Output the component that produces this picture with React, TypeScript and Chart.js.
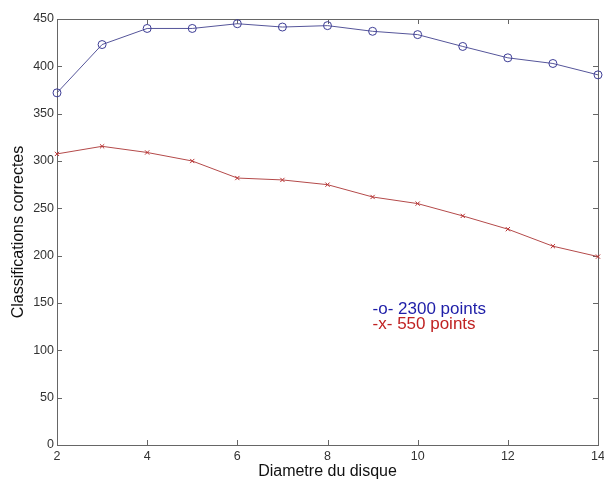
import React, { useEffect, useRef } from "react";
import { Chart, registerables } from "chart.js";

Chart.register(...registerables);

const diameters = [2, 3, 4, 5, 6, 7, 8, 9, 10, 11, 12, 13, 14];
const points2300 = [372, 423, 440, 440, 445, 441.5, 443, 437, 433.5, 421, 409, 403, 391];
const points550 = [307.5, 315.5, 309, 300, 282, 280, 275, 262, 255, 242, 228, 210, 199];
const legendLines = ["-o- 2300 points", "-x- 550 points"];
const legendColors = ["#1e1ea8", "#c02222"];
const xTitle = "Diametre du disque";
const yTitle = "Classifications correctes";

const FONT = "'Liberation Sans', Arial, sans-serif";

const framePlugin = {
  id: "frame",
  beforeDatasetsDraw(chart: any) {
    const { ctx, chartArea, scales } = chart;
    const { left, right, top, bottom } = chartArea;
    const x = scales.x;
    const y = scales.y;
    ctx.save();
    ctx.strokeStyle = "#666";
    ctx.lineWidth = 1;
    ctx.strokeRect(Math.round(left) + 0.5, Math.round(top) + 0.5, Math.round(right - left), Math.round(bottom - top));
    const tl = 5;
    ctx.beginPath();
    x.ticks.forEach((t: any) => {
      const px = Math.round(x.getPixelForValue(t.value)) + 0.5;
      ctx.moveTo(px, bottom);
      ctx.lineTo(px, bottom - tl);
      ctx.moveTo(px, top);
      ctx.lineTo(px, top + tl);
    });
    y.ticks.forEach((t: any) => {
      const py = Math.round(y.getPixelForValue(t.value)) + 0.5;
      ctx.moveTo(left, py);
      ctx.lineTo(left + tl, py);
      ctx.moveTo(right, py);
      ctx.lineTo(right - tl, py);
    });
    ctx.stroke();
    ctx.restore();
  },
  afterDraw(chart: any) {
    const { ctx, scales } = chart;
    const opts = chart.options.plugins.frame;
    const px = scales.x.getPixelForValue(opts.legendX);
    const py = scales.y.getPixelForValue(opts.legendY);
    ctx.save();
    ctx.font = `17px ${FONT}`;
    ctx.textBaseline = "middle";
    ctx.textAlign = "left";
    legendLines.forEach((line, i) => {
      ctx.fillStyle = legendColors[i];
      ctx.fillText(line, px, py + i * 15);
    });
    ctx.restore();
  },
};

export default function App() {
  const ref = useRef<HTMLCanvasElement>(null);
  useEffect(() => {
    if (!ref.current) return;
    const chart = new Chart(ref.current, {
      type: "line",
      data: {
        labels: diameters,
        datasets: [
          {
            label: legendLines[0],
            data: diameters.map((d, i) => ({ x: d, y: points2300[i] })),
            borderColor: "#55559a",
            borderWidth: 1,
            pointStyle: "circle",
            pointRadius: 4,
            pointBorderColor: "#3c3c95",
            pointBackgroundColor: "rgba(0,0,0,0)",
            pointBorderWidth: 1,
            clip: false,
          },
          {
            label: legendLines[1],
            data: diameters.map((d, i) => ({ x: d, y: points550[i] })),
            borderColor: "#b44a4a",
            borderWidth: 1,
            pointStyle: "crossRot",
            pointRadius: 3,
            pointBorderColor: "#b83030",
            pointBorderWidth: 1,
            clip: false,
          },
        ],
      } as any,
      options: {
        animation: false,
        responsive: false,
        maintainAspectRatio: false,
        layout: { padding: { top: 19, right: 6, left: 0, bottom: 0 } },
        plugins: {
          legend: { display: false },
          tooltip: { enabled: false },
          frame: { legendX: 9, legendY: 143 },
        } as any,
        scales: {
          x: {
            type: "linear",
            min: 2,
            max: 14,
            grid: { display: false, drawTicks: false },
            border: { display: false },
            ticks: { stepSize: 2, padding: 4, color: "#333", font: { family: FONT, size: 12.5 }, maxRotation: 0 },
            title: { display: true, text: xTitle, color: "#111", font: { family: FONT, size: 16 }, padding: { top: 0, bottom: 0 } },
            afterFit: (s: any) => { s.height = 36; s.paddingRight = 0; s.paddingLeft = 0; },
          },
          y: {
            type: "linear",
            min: 0,
            max: 450,
            grid: { display: false, drawTicks: false },
            border: { display: false },
            ticks: { stepSize: 50, padding: 3, color: "#333", font: { family: FONT, size: 12.5 } },
            title: { display: true, text: yTitle, color: "#111", font: { family: FONT, size: 16 }, padding: { top: 9, bottom: 0 } },
            afterFit: (s: any) => { s.width = 57; s.paddingTop = 0; s.paddingBottom = 0; },
          },
        },
      } as any,
      plugins: [framePlugin],
    });
    return () => chart.destroy();
  }, []);
  return (
    <div style={{ position: "absolute", left: 0, top: 0, width: 604, height: 481, background: "#fff" }}>
      <canvas ref={ref} width={604} height={481} />
    </div>
  );
}
